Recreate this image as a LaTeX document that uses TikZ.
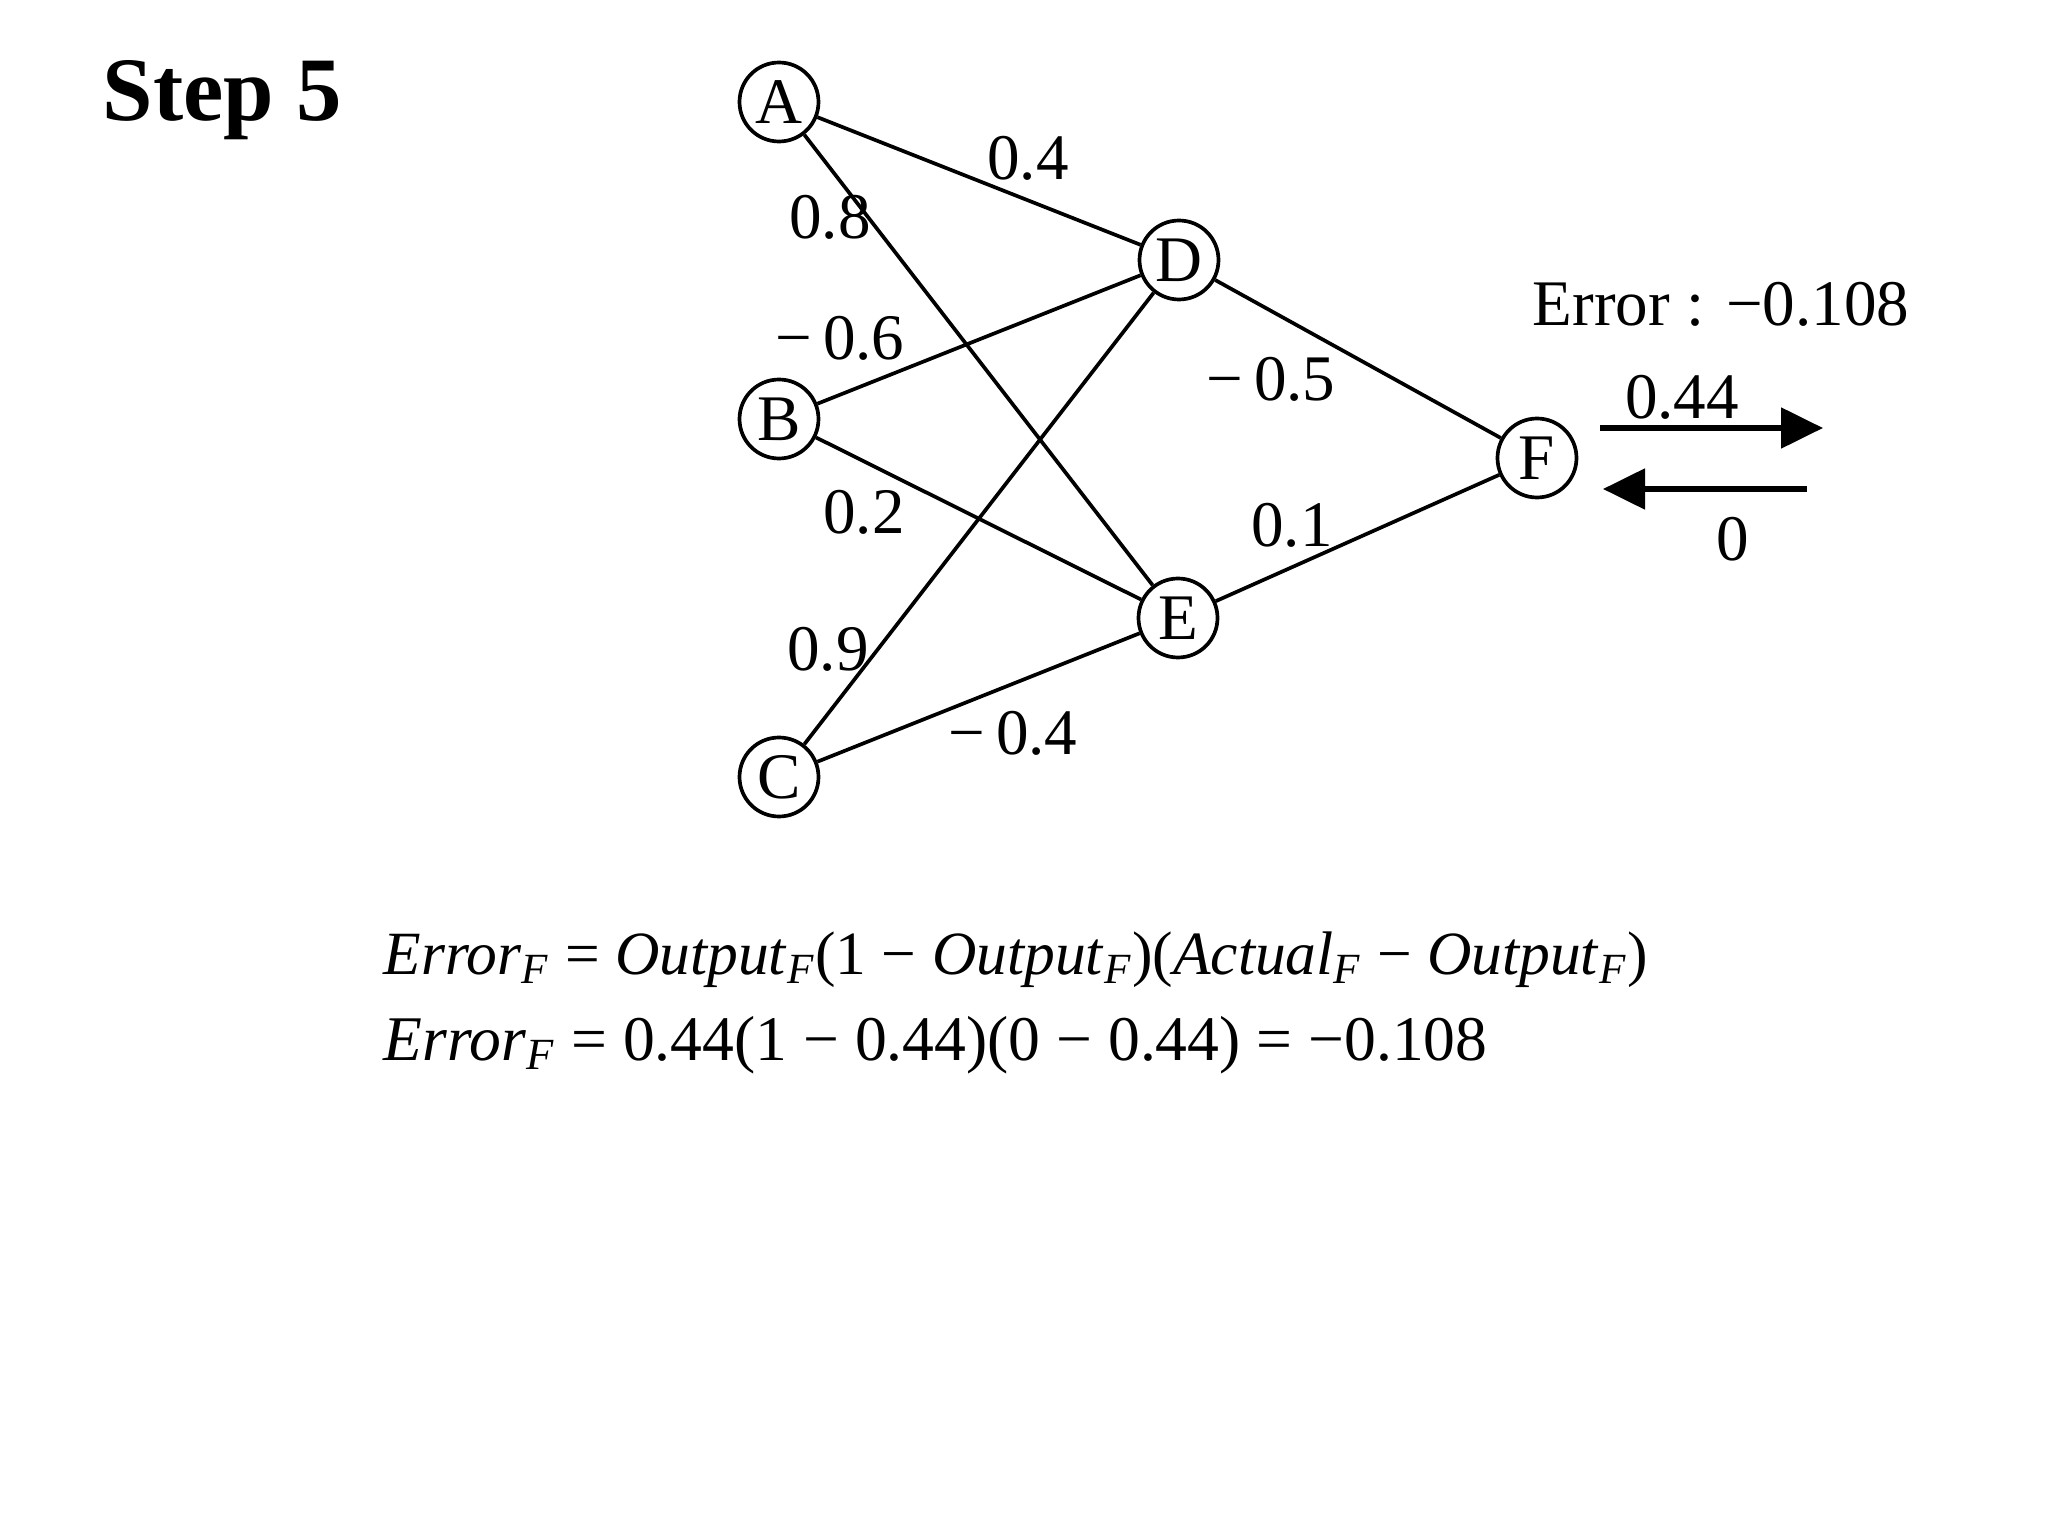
\documentclass[tikz,border=0pt]{standalone}
\usepackage{fontspec}
\setmainfont{Liberation Serif}
\usepackage{tikz}
\usetikzlibrary{arrows.meta, positioning}

\newcommand{\subF}{\textsubscript{\itshape F}}

\begin{document}
\begin{tikzpicture}[
    every node/.style={font=\fontsize{18.5}{22}\selectfont},
    neuron/.style={circle, draw=black, line width=1.05pt, minimum size=0.79cm, inner sep=0pt},
    weight/.style={inner sep=0pt, anchor=center},
    link/.style={line width=1.05pt, draw=black},
    flow/.style={-{Triangle[length=0.42cm, width=0.4cm]}, line width=1.5pt, draw=black},
    formula/.style={inner sep=0pt, anchor=base west}
]
    \useasboundingbox (0,0) rectangle (20.48,-15.36);

    % Title
    \node[anchor=base west, inner sep=0pt, font=\bfseries\fontsize{25.8}{30}\selectfont] (title) at (1.02,-1.21) {Step 5};

    % Network Nodes
    \node[neuron] (A) at (7.79,-1.02) {A};
    \node[neuron] (B) at (7.79,-4.19) {B};
    \node[neuron] (C) at (7.79,-7.77) {C};
    \node[neuron] (D) at (11.79,-2.60) {D};
    \node[neuron] (E) at (11.78,-6.18) {E};
    \node[neuron] (F) at (15.37,-4.58) {F};

    % Connections
    \draw[link] (A) -- (D);
    \draw[link] (A) -- (E);
    \draw[link] (B) -- (D);
    \draw[link] (B) -- (E);
    \draw[link] (C) -- (D);
    \draw[link] (C) -- (E);
    \draw[link] (D) -- (F);
    \draw[link] (E) -- (F);

    % Weights
    \node[weight] (wAD) at (10.28,-1.58) {0.4};
    \node[weight] (wAE) at (8.30,-2.17) {0.8};
    \node[weight] (wBD) at (8.40,-3.38) {−\,0.6};
    \node[weight] (wBE) at (8.64,-5.12) {0.2};
    \node[weight] (wCD) at (8.28,-6.49) {0.9};
    \node[weight] (wCE) at (10.13,-7.33) {−\,0.4};
    \node[weight] (wDF) at (12.71,-3.79) {−\,0.5};
    \node[weight] (wEF) at (12.92,-5.25) {0.1};

    % Output side
    \node[weight] (err) at (17.21,-3.04) {Error : −0.108};
    \coordinate (fwdS) at (16.00,-4.28);
    \coordinate (fwdE) at (18.23,-4.28);
    \coordinate (bckS) at (18.07,-4.89);
    \coordinate (bckE) at (16.03,-4.89);
    \draw[flow] (fwdS) -- (fwdE);
    \draw[flow] (bckS) -- (bckE);
    \node[weight] (outval) at (16.82,-3.97) {0.44};
    \node[weight] (actval) at (17.33,-5.39) {0};

    % Formulas
    \node[formula, font=\fontsize{17.5}{21}\selectfont] (eq1) at (3.83,-9.74) {\textit{Error}\subF{} = \textit{Output}\subF(1 − \textit{Output}\subF)(\textit{Actual}\subF{} − \textit{Output}\subF)};
    \node[formula, font=\fontsize{18.1}{22}\selectfont] (eq2) at (3.83,-10.60) {\textit{Error}\subF{} = 0.44(1 − 0.44)(0 − 0.44) = −0.108};
\end{tikzpicture}
\end{document}
